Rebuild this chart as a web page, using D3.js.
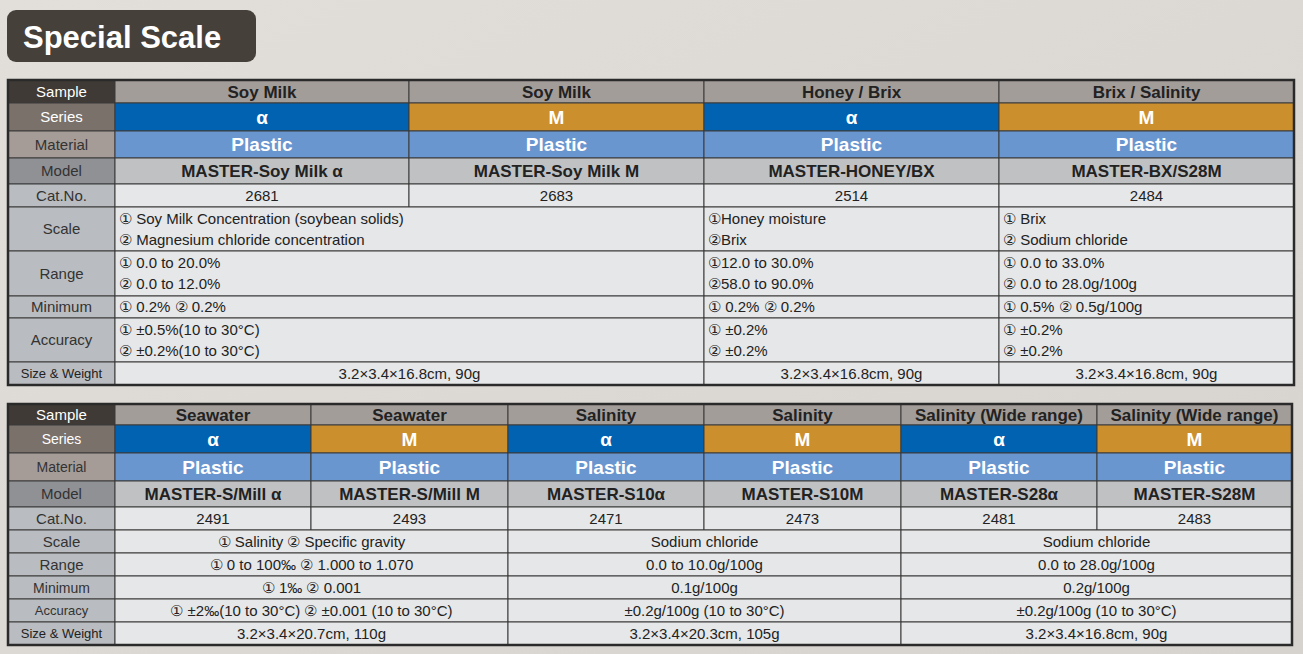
<!DOCTYPE html><html><head><meta charset="utf-8">
<script src="https://cdn.jsdelivr.net/npm/d3@7"></script>
<style>body{margin:0;background:#dedbd6}</style></head><body>
<svg id="c" width="1303" height="654"></svg>
<script>
const rowLabels=["Sample","Series","Material","Model","Cat.No.","Scale","Range","Minimum","Accuracy","Size & Weight"];
// Table 1
const t1Samples=["Soy Milk","Soy Milk","Honey / Brix","Brix / Salinity"];
const t1Series=["α","M","α","M"];
const t1Models=["MASTER-Soy Milk α","MASTER-Soy Milk M","MASTER-HONEY/BX","MASTER-BX/S28M"];
const t1Cat=["2681","2683","2514","2484"];
const t1Groups=[[0,2],[2,3],[3,4]];
const t1Scale=[["① Soy Milk Concentration (soybean solids)","② Magnesium chloride concentration"],["①Honey moisture","②Brix"],["① Brix","② Sodium chloride"]];
const t1Range=[["① 0.0 to 20.0%","② 0.0 to 12.0%"],["①12.0 to 30.0%","②58.0 to 90.0%"],["① 0.0 to 33.0%","② 0.0 to 28.0g/100g"]];
const t1Min=[["① 0.2% ② 0.2%"],["① 0.2% ② 0.2%"],["① 0.5% ② 0.5g/100g"]];
const t1Acc=[["① ±0.5%(10 to 30°C)","② ±0.2%(10 to 30°C)"],["① ±0.2%","② ±0.2%"],["① ±0.2%","② ±0.2%"]];
const t1Size=["3.2×3.4×16.8cm, 90g","3.2×3.4×16.8cm, 90g","3.2×3.4×16.8cm, 90g"];
// Table 2
const t2Samples=["Seawater","Seawater","Salinity","Salinity","Salinity (Wide range)","Salinity (Wide range)"];
const t2Series=["α","M","α","M","α","M"];
const t2Models=["MASTER-S/Mill α","MASTER-S/Mill M","MASTER-S10α","MASTER-S10M","MASTER-S28α","MASTER-S28M"];
const t2Cat=["2491","2493","2471","2473","2481","2483"];
const t2Groups=[[0,2],[2,4],[4,6]];
const t2Scale=["① Salinity ② Specific gravity","Sodium chloride","Sodium chloride"];
const t2Range=["① 0 to 100‰ ② 1.000 to 1.070","0.0 to 10.0g/100g","0.0 to 28.0g/100g"];
const t2Min=["① 1‰ ② 0.001","0.1g/100g","0.2g/100g"];
const t2Acc=["① ±2‰(10 to 30°C) ② ±0.001 (10 to 30°C)","±0.2g/100g (10 to 30°C)","±0.2g/100g (10 to 30°C)"];
const t2Size=["3.2×3.4×20.7cm, 110g","3.2×3.4×20.3cm, 105g","3.2×3.4×16.8cm, 90g"];

const svg=d3.select("#c");
const F="'Helvetica Neue',Arial,'Liberation Sans',sans-serif";
const bg=svg.append("defs").append("linearGradient").attr("id","g").attr("x1",0).attr("x2",1).attr("y1",0).attr("y2",1);
bg.append("stop").attr("offset",0).attr("stop-color","#e2dfda");
bg.append("stop").attr("offset",1).attr("stop-color","#d6d3ce");
svg.append("rect").attr("width",1303).attr("height",654).attr("fill","url(#g)");
svg.append("rect").attr("x",7).attr("y",10).attr("width",249).attr("height",52).attr("rx",9).attr("fill","#45403a");
svg.append("text").attr("x",23).attr("y",48).attr("fill","#fff").attr("font-family",F).attr("font-weight","bold").attr("font-size",31).text("Special Scale");

const labelFill=["#3f3a35","#7a716b","#a59c97","#8f9195","#b9bcc0","#b9bcc0","#b9bcc0","#b9bcc0","#b9bcc0","#b9bcc0"];
const labelColor=["#fff","#fff","#333","#333","#333","#333","#333","#333","#333","#222"];

function draw(colX,rowY,samples,series,models,cats,groups,det,labelSizes,detSize){
  const g=svg.append("g");
  const x0=colX[0], n=samples.length;
  const cols=d3.range(n+1).map(i=>colX[i+1]);
  const cells=[];
  rowLabels.forEach((l,i)=>cells.push({x0:x0,x1:colX[1],r:i,lines:[l],fill:labelFill[i],color:labelColor[i],size:labelSizes[i],anchor:"middle"}));
  for(let i=0;i<n;i++){
    const a=cols[i],b=cols[i+1];
    cells.push({x0:a,x1:b,r:0,lines:[samples[i]],fill:"#a39d99",color:"#222",size:17,bold:1,anchor:"middle"});
    cells.push({x0:a,x1:b,r:1,lines:[series[i]],fill:series[i]==="α"?"#0062b0":"#cc8f2e",color:"#fff",size:19,bold:1,anchor:"middle"});
    cells.push({x0:a,x1:b,r:2,lines:["Plastic"],fill:"#6a96cf",color:"#fff",size:19,bold:1,anchor:"middle"});
    cells.push({x0:a,x1:b,r:3,lines:[models[i]],fill:"#c0c1c3",color:"#222",size:17,bold:1,anchor:"middle"});
    cells.push({x0:a,x1:b,r:4,lines:[cats[i]],fill:"#e6e7e8",color:"#222",size:15,anchor:"middle"});
  }
  det.forEach((arr,k)=>{
    groups.forEach((gr,j)=>{
      const v=arr[j]; const lines=Array.isArray(v)?v:[v];
      const anchor=(Array.isArray(v)&&k<4)?"start":"middle";
      cells.push({x0:cols[gr[0]],x1:cols[gr[1]],r:5+k,lines,fill:"#e6e7e8",color:"#222",size:detSize,anchor});
    });
  });
  cells.forEach(c=>{
    const y0=rowY[c.r],y1=rowY[c.r+1];
    g.append("rect").attr("x",c.x0).attr("y",y0).attr("width",c.x1-c.x0).attr("height",y1-y0).attr("fill",c.fill).attr("stroke","#3a3a3a").attr("stroke-width",1);
    const lh=21, mid=(y0+y1)/2, start=mid-(c.lines.length-1)*lh/2;
    c.lines.forEach((t,i)=>g.append("text").attr("x",c.anchor==="start"?c.x0+4:(c.x0+c.x1)/2).attr("y",start+i*lh).attr("dy","0.36em")
      .attr("text-anchor",c.anchor).attr("font-family",F).attr("font-size",c.size).attr("font-weight",c.bold?"bold":"normal").attr("fill",c.color).text(t));
  });
  g.append("rect").attr("x",x0).attr("y",rowY[0]).attr("width",colX[colX.length-1]-x0).attr("height",rowY[10]-rowY[0]).attr("fill","none").attr("stroke","#2a2a2a").attr("stroke-width",2.5);
}
draw([8,115,409,704,999,1294],[80,103,131,158,184,207,251,296,318,362,385],t1Samples,t1Series,t1Models,t1Cat,t1Groups,[t1Scale,t1Range,t1Min,t1Acc,t1Size],[15,15,15,15,15,15,15,15,15,13],15);
draw([8,115,311,508,704,901,1097,1292],[404,425,453,481,507,530,553,576,599,622,645],t2Samples,t2Series,t2Models,t2Cat,t2Groups,[t2Scale,t2Range,t2Min,t2Acc,t2Size],[15,14,14,15,15,15,15,14,13,13],15);
</script></body></html>
